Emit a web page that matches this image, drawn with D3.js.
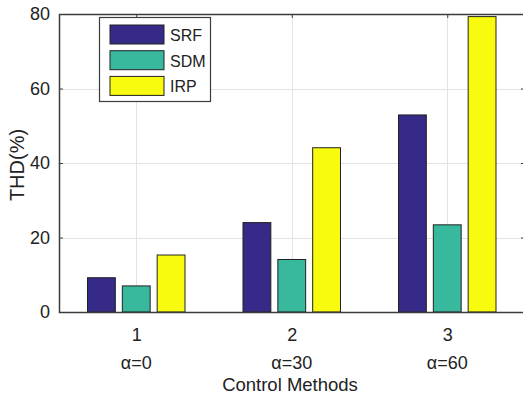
<!DOCTYPE html>
<html>
<head>
<meta charset="utf-8">
<script src="https://cdn.jsdelivr.net/npm/d3@7/dist/d3.min.js"></script>
<style>
  html, body { margin: 0; padding: 0; background: #fff; }
  svg { display: block; font-family: "Liberation Sans", Arial, sans-serif; }
</style>
</head>
<body>
<svg id="chart" width="523" height="399"></svg>
<script>
// THD of each control method for three alpha settings
const categories = [1, 2, 3];
const categoryNotes = ["\u03b1=0", "\u03b1=30", "\u03b1=60"];
const seriesNames = ["SRF", "SDM", "IRP"];
const srfValues = [9.2, 24.0, 52.9];
const sdmValues = [7.0, 14.1, 23.4];
const irpValues = [15.3, 44.1, 79.3];
const seriesColors = ["#352a87", "#38b99e", "#f9fb0e"];
const yTicks = [0, 20, 40, 60, 80];

const seriesValues = [srfValues, sdmValues, irpValues];

const svg = d3.select("#chart");
const plotLeft = 59, plotRight = 525, plotTop = 14, plotBottom = 312;

const x = d3.scaleLinear().domain([0.5, 3.5]).range([58.5, 525]);
const y = d3.scaleLinear().domain([0, 80]).range([plotBottom, plotTop]);

const barW = 0.179;   // bar width in category units
const barGap = 0.224; // distance between bar centres in a group

// grid
const grid = svg.append("g").attr("stroke", "#e3e3e3").attr("stroke-width", 1);
grid.selectAll("line.gx").data(categories).join("line")
  .attr("x1", d => Math.round(x(d)) + 0.5).attr("x2", d => Math.round(x(d)) + 0.5)
  .attr("y1", plotTop).attr("y2", plotBottom);
grid.selectAll("line.gy").data(yTicks.slice(1, -1)).join("line")
  .attr("x1", plotLeft).attr("x2", plotRight)
  .attr("y1", d => Math.round(y(d)) + 0.5).attr("y2", d => Math.round(y(d)) + 0.5);

// bars
const bars = svg.append("g");
seriesValues.forEach((vals, si) => {
  bars.selectAll(null).data(vals).join("rect")
    .attr("x", (d, i) => x(categories[i] + (si - 1) * barGap - barW / 2))
    .attr("width", x(barW) - x(0))
    .attr("y", d => y(d))
    .attr("height", d => y(0) - y(d))
    .attr("fill", seriesColors[si])
    .attr("stroke", "#222")
    .attr("stroke-width", 1);
});

// axes frame
const axisColor = "#3c3c3c";
const yAxis = d3.axisLeft(y).tickValues(yTicks).tickSize(-4).tickPadding(9).tickFormat(d3.format("d"));
const gy = svg.append("g").attr("transform", `translate(${plotLeft},0)`).call(yAxis);
gy.select(".domain").remove();
gy.selectAll(".tick line").attr("stroke", axisColor);
gy.selectAll(".tick text").attr("font-size", 18).attr("fill", "#222")
  .attr("font-family", "Liberation Sans, Arial, sans-serif");

const yAxisR = d3.axisRight(y).tickValues(yTicks).tickSize(-4).tickFormat("");
const gyr = svg.append("g").attr("transform", `translate(${plotRight},0)`).call(yAxisR);
gyr.select(".domain").remove();
gyr.selectAll(".tick line").attr("stroke", axisColor);

const xAxisTop = d3.axisTop(x).tickValues(categories).tickSize(-4).tickFormat("");
const gxt = svg.append("g").attr("transform", `translate(0,${plotTop})`).call(xAxisTop);
gxt.select(".domain").remove();
gxt.selectAll(".tick line").attr("stroke", axisColor);

const xAxis = d3.axisBottom(x).tickValues(categories).tickSize(0).tickPadding(16).tickFormat(d3.format("d"));
const gx = svg.append("g").attr("transform", `translate(0,${plotBottom})`).call(xAxis);
gx.select(".domain").remove();
gx.selectAll(".tick text").attr("font-size", 18).attr("fill", "#222")
  .attr("font-family", "Liberation Sans, Arial, sans-serif");

svg.append("rect")
  .attr("x", plotLeft + 0.5).attr("y", plotTop + 0.5)
  .attr("width", plotRight - plotLeft).attr("height", plotBottom - plotTop)
  .attr("fill", "none").attr("stroke", axisColor).attr("stroke-width", 1.5);

// alpha notes under category numbers
svg.append("g").selectAll("text").data(categoryNotes).join("text")
  .attr("x", (d, i) => x(categories[i]))
  .attr("y", 369)
  .attr("text-anchor", "middle")
  .attr("font-size", 18)
  .attr("fill", "#222")
  .text(d => d);

// axis titles
svg.append("text")
  .attr("x", 290).attr("y", 391)
  .attr("text-anchor", "middle")
  .attr("font-size", 18.5).attr("fill", "#222")
  .text("Control Methods");

svg.append("text")
  .attr("transform", "translate(24,165) rotate(-90)")
  .attr("text-anchor", "middle")
  .attr("font-size", 20).attr("fill", "#222")
  .text("THD(%)");

// legend
const lg = svg.append("g");
lg.append("rect")
  .attr("x", 99.5).attr("y", 17.5).attr("width", 111).attr("height", 84)
  .attr("fill", "#fff").attr("stroke", axisColor).attr("stroke-width", 1.2);
seriesNames.forEach((name, i) => {
  const yy = 25 + i * 25.7;
  lg.append("rect")
    .attr("x", 110).attr("y", yy).attr("width", 54).attr("height", 19)
    .attr("fill", seriesColors[i]).attr("stroke", "#222").attr("stroke-width", 1);
  lg.append("text")
    .attr("x", 170).attr("y", yy + 16)
    .attr("font-size", 16).attr("fill", "#222")
    .text(name);
});
</script>
</body>
</html>
